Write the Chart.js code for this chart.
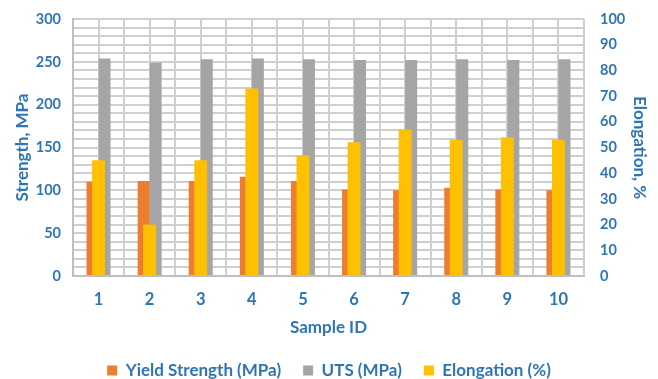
<!DOCTYPE html>
<html>
<head>
<meta charset="utf-8">
<script src="https://cdn.jsdelivr.net/npm/chart.js@4/dist/chart.umd.min.js"></script>
<style>
  html, body { margin: 0; padding: 0; background: #ffffff; }
  #wrap { width: 658px; height: 379px; }
</style>
</head>
<body>
<div id="wrap"><canvas id="c" width="658" height="379"></canvas></div>
<script>
// Tensile test results per sample
const sampleIds = ['1', '2', '3', '4', '5', '6', '7', '8', '9', '10'];
const yieldStrength = [110, 111, 111, 116, 111, 101, 100, 103, 101, 100];
const uts = [254, 249, 253, 254, 253, 252, 252, 253, 252, 253];
const elongation = [45, 20, 45, 73, 47, 52, 57, 53, 54, 53];

const blue = '#2E75B6';
const gridColor = '#cfcfcf';
const fontFamily = 'Lato, "Open Sans", sans-serif';

// Fixed side-axis widths; the top label overhang is covered by the layout padding.
const fixSideAxis = (width) => (scale) => {
  scale.width = width;
  scale.paddingTop = 0;
};

// The sample axis is numeric so that grid lines fall both between and
// through the samples (every half step).
new Chart(document.getElementById('c'), {
  type: 'bar',
  data: {
    labels: sampleIds,
    datasets: [
      {
        label: 'Yield Strength (MPa)',
        data: yieldStrength,
        backgroundColor: '#ED7D31',
        yAxisID: 'y',
        order: 1,
        categoryPercentage: 0.94,
        barPercentage: 1.0
      },
      {
        label: 'UTS (MPa)',
        data: uts,
        backgroundColor: '#A5A5A5',
        yAxisID: 'y',
        order: 1,
        categoryPercentage: 0.94,
        barPercentage: 1.0
      },
      {
        label: 'Elongation (%)',
        data: elongation,
        backgroundColor: '#FFC000',
        yAxisID: 'y2',
        order: 0,
        grouped: false,
        barPercentage: 0.63
      }
    ]
  },
  options: {
    responsive: false,
    animation: false,
    layout: { padding: { left: 0, right: 0, top: 19, bottom: -10 } },
    plugins: {
      tooltip: { enabled: false },
      legend: {
        position: 'bottom',
        labels: {
          color: blue,
          font: { family: fontFamily, size: 17, weight: 'bold' },
          boxWidth: 10,
          boxHeight: 10,
          padding: 22,
          sort: (a, b) => a.datasetIndex - b.datasetIndex
        }
      }
    },
    scales: {
      x: {
        type: 'linear',
        min: 0.5,
        max: 10.5,
        offset: false,
        grid: { offset: false, color: gridColor, lineWidth: 2, drawTicks: false },
        border: { color: '#bfbfbf', width: 2 },
        afterFit: (scale) => { scale.height = 64; },
        ticks: {
          stepSize: 0.5,
          maxTicksLimit: 30,
          autoSkip: false,
          maxRotation: 0,
          color: blue,
          font: { family: fontFamily, size: 16.5, weight: 'bold' },
          padding: 14,
          callback: (v) => (Number.isInteger(v) ? String(v) : '')
        },
        title: {
          display: true,
          text: 'Sample ID',
          color: blue,
          font: { family: fontFamily, size: 17, weight: 'bold' },
          padding: { top: 0, bottom: 2 }
        }
      },
      y: {
        position: 'left',
        min: 0,
        max: 300,
        grid: { color: gridColor, lineWidth: 2, drawTicks: false },
        border: { color: '#bfbfbf', width: 2 },
        afterFit: fixSideAxis(73),
        ticks: {
          stepSize: 10,
          maxTicksLimit: 40,
          autoSkip: false,
          padding: 12,
          color: blue,
          font: { family: fontFamily, size: 14.5, weight: 'bold' },
          callback: (v) => (v % 50 === 0 ? v : '')
        },
        title: {
          display: true,
          text: 'Strength, MPa',
          color: blue,
          font: { family: fontFamily, size: 17, weight: 'bold' },
          padding: { top: 12, bottom: 0 }
        }
      },
      y2: {
        position: 'right',
        min: 0,
        max: 100,
        grid: { drawOnChartArea: false, drawTicks: false },
        border: { display: false },
        afterFit: fixSideAxis(74),
        ticks: {
          stepSize: 10,
          padding: 16,
          color: blue,
          font: { family: fontFamily, size: 14.5, weight: 'bold' }
        },
        title: {
          display: true,
          text: 'Elongation, %',
          color: blue,
          font: { family: fontFamily, size: 17, weight: 'bold' },
          padding: { top: 8, bottom: 0 }
        }
      }
    }
  }
});
</script>
</body>
</html>
